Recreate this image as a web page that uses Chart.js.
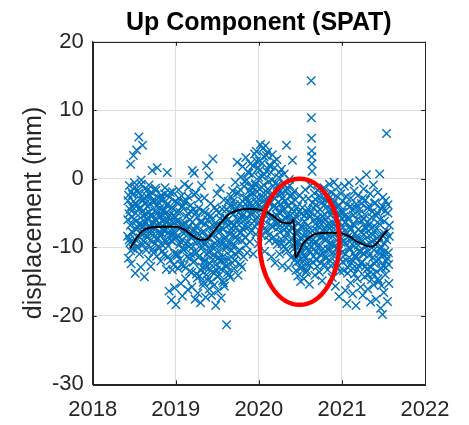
<!DOCTYPE html>
<html>
<head>
<meta charset="utf-8">
<script src="https://cdn.jsdelivr.net/npm/chart.js@4/dist/chart.umd.min.js"></script>
<style>
  html,body{margin:0;padding:0;background:#ffffff;}
  canvas{display:block;}
</style>
</head>
<body>
<canvas id="c" width="469" height="425"></canvas>
<script>
// ---- data (decimal year, displacement in mm) ----
const up2018 = [[2018.420,-8.4],[2018.425,-3.2],[2018.430,-11.6],[2018.436,-5.1],[2018.441,-1.0],[2018.447,-9.3],[2018.452,-6.8],[2018.457,2.1],[2018.463,-12.4],[2018.468,-4.0],[2018.474,-7.7],[2018.479,-2.3],[2018.485,-10.2],[2018.490,3.4],[2018.496,-5.9],[2018.502,-0.6],[2018.507,-8.8],[2018.512,-13.8],[2018.518,-3.7],[2018.523,-6.2],[2018.529,4.2],[2018.534,-9.9],[2018.540,-1.8],[2018.545,-7.1],[2018.551,-4.4],[2018.556,6.1],[2018.562,-11.0],[2018.567,-2.9],[2018.573,-6.5],[2018.578,-12.9],[2018.584,-0.2],[2018.589,-8.1],[2018.595,-4.8],[2018.600,4.9],[2018.606,-9.6],[2018.611,-3.1],[2018.617,-6.9],[2018.622,-14.3],[2018.628,-1.5],[2018.633,-7.6],[2018.639,-5.2],[2018.644,-10.4],[2018.650,-2.6],[2018.655,-8.5],[2018.661,-4.1],[2018.666,-6.0],[2018.672,-11.7],[2018.677,-0.9],[2018.683,-7.3],[2018.688,-3.6],[2018.694,-9.0],[2018.699,-12.8],[2018.705,-5.5],[2018.710,-2.0],[2018.716,1.2],[2018.721,-8.2],[2018.727,-6.4],[2018.732,-10.8],[2018.738,-3.4],[2018.743,-7.0],[2018.749,-4.7],[2018.754,-9.4],[2018.760,-1.7],[2018.765,-6.1],[2018.771,-11.3],[2018.776,1.6],[2018.782,-5.0],[2018.787,-8.7],[2018.793,-2.8],[2018.798,-7.8],[2018.804,-10.1],[2018.809,-4.3],[2018.815,-6.6],[2018.820,-12.0],[2018.826,-2.4],[2018.831,-8.0],[2018.837,-5.3],[2018.842,-9.7],[2018.848,-3.0],[2018.853,-7.4],[2018.859,-11.1],[2018.864,-4.6],[2018.870,-1.3],[2018.875,-8.9],[2018.881,-6.3],[2018.886,-13.2],[2018.892,-3.9],[2018.897,0.9],[2018.903,-7.2],[2018.908,-9.8],[2018.914,-5.6],[2018.919,-16.4],[2018.925,-2.7],[2018.930,-8.3],[2018.936,-11.9],[2018.941,-6.7],[2018.947,-17.7],[2018.952,-4.2],[2018.958,-9.1],[2018.963,-1.9],[2018.969,-7.5],[2018.974,-12.6],[2018.980,-5.4],[2018.985,-15.9],[2018.991,-3.3],[2018.996,-8.6]];
const up2018b = [[2018.423,-6.0],[2018.432,-2.4],[2018.440,-8.9],[2018.449,-4.5],[2018.457,-10.5],[2018.466,-1.9],[2018.474,-5.6],[2018.483,-7.9],[2018.491,-3.3],[2018.500,-9.4],[2018.508,-1.2],[2018.517,-5.0],[2018.525,-7.4],[2018.534,-3.9],[2018.542,-10.1],[2018.551,-2.1],[2018.559,-6.6],[2018.568,-8.6],[2018.576,-4.2],[2018.585,-0.8],[2018.593,-7.0],[2018.602,-5.4],[2018.610,-9.1],[2018.619,-2.8],[2018.627,-6.3],[2018.636,-3.6],[2018.644,-8.2],[2018.653,-5.8],[2018.661,-1.6],[2018.670,-9.7],[2018.678,-4.9],[2018.687,-6.9],[2018.695,-2.5],[2018.704,-8.0],[2018.712,-5.2],[2018.721,-10.3],[2018.729,-3.1],[2018.738,-7.2],[2018.746,-5.9],[2018.755,-1.4],[2018.763,-8.8],[2018.772,-4.0],[2018.780,-6.8],[2018.789,-9.9],[2018.797,-3.5],[2018.806,-5.6],[2018.814,-8.4],[2018.823,-2.9],[2018.831,-6.1],[2018.840,-10.6],[2018.848,-4.6],[2018.857,-7.6],[2018.865,-2.2],[2018.874,-5.1],[2018.882,-9.3],[2018.891,-6.4],[2018.899,-3.7],[2018.908,-11.4],[2018.916,-7.8],[2018.925,-5.3],[2018.933,-2.0],[2018.942,-9.0],[2018.950,-6.2],[2018.959,-13.3],[2018.967,-4.4],[2018.976,-8.1],[2018.984,-10.9],[2018.993,-5.7]];

const up2019 = [[2019.002,-18.4],[2019.007,-6.2],[2019.013,-10.9],[2019.018,-3.5],[2019.024,-8.4],[2019.029,-13.1],[2019.035,-1.6],[2019.040,-7.0],[2019.046,-11.8],[2019.051,-4.9],[2019.057,-9.2],[2019.062,-15.3],[2019.068,-2.5],[2019.073,-6.8],[2019.079,-17.1],[2019.084,-10.3],[2019.090,-4.0],[2019.095,-8.0],[2019.101,-12.7],[2019.106,-0.8],[2019.112,-6.5],[2019.117,-14.6],[2019.123,-9.5],[2019.128,-3.2],[2019.134,-11.4],[2019.139,-7.3],[2019.145,-16.2],[2019.150,-5.1],[2019.156,-1.2],[2019.161,-9.9],[2019.167,-13.5],[2019.172,-6.0],[2019.178,-3.9],[2019.183,-11.0],[2019.189,-8.7],[2019.194,-15.8],[2019.200,1.2],[2019.205,-7.6],[2019.211,-12.2],[2019.216,-4.5],[2019.222,0.8],[2019.227,-10.6],[2019.233,-17.6],[2019.238,-6.9],[2019.244,-2.1],[2019.249,-13.9],[2019.255,-9.0],[2019.260,-5.6],[2019.266,-16.7],[2019.271,-11.5],[2019.277,-3.0],[2019.282,-8.2],[2019.288,-14.2],[2019.293,-6.3],[2019.299,-18.1],[2019.304,-10.2],[2019.310,-1.0],[2019.315,-7.9],[2019.321,-12.9],[2019.326,-4.7],[2019.332,-15.1],[2019.337,-9.4],[2019.343,-2.8],[2019.348,-11.9],[2019.354,-6.6],[2019.359,-17.3],[2019.365,-13.0],[2019.370,1.9],[2019.376,-8.5],[2019.381,-5.3],[2019.387,-14.8],[2019.392,-10.7],[2019.398,0.4],[2019.403,-16.1],[2019.409,-7.1],[2019.414,-12.4],[2019.420,-3.6],[2019.425,-9.8],[2019.431,-17.0],[2019.436,-5.9],[2019.442,-13.6],[2019.447,2.9],[2019.453,-11.2],[2019.458,-8.1],[2019.464,-15.5],[2019.469,-4.2],[2019.475,-10.0],[2019.480,-18.5],[2019.486,-6.8],[2019.491,-13.3],[2019.497,-2.2],[2019.502,-9.1],[2019.508,-16.4],[2019.513,-11.6],[2019.519,-5.0],[2019.524,-14.0],[2019.530,-7.7],[2019.535,-1.4],[2019.541,-12.1],[2019.546,-17.4],[2019.552,-9.6],[2019.557,-4.4],[2019.563,-14.9],[2019.568,-7.4],[2019.574,-11.3],[2019.579,-3.1],[2019.585,-15.7],[2019.590,-8.8],[2019.596,-5.7],[2019.601,-12.8],[2019.607,-10.1],[2019.612,-21.3],[2019.618,-6.1],[2019.623,-13.7],[2019.629,-3.3],[2019.634,-9.3],[2019.640,-11.7],[2019.645,-4.8],[2019.651,-7.5],[2019.656,-14.4],[2019.662,-2.6],[2019.667,-10.5],[2019.673,-6.4],[2019.678,-12.3],[2019.684,-1.8],[2019.689,-8.3],[2019.695,-5.2],[2019.700,-13.1],[2019.706,-3.8],[2019.711,-9.7],[2019.717,-0.5],[2019.722,-7.2],[2019.728,-11.1],[2019.733,-4.6],[2019.739,2.4],[2019.744,-8.9],[2019.750,-14.1],[2019.755,-2.0],[2019.761,-6.7],[2019.766,-10.4],[2019.772,-3.7],[2019.777,-12.5],[2019.783,0.3],[2019.788,-7.8],[2019.794,-5.5],[2019.799,-9.0],[2019.805,1.8],[2019.810,-4.1],[2019.816,-11.4],[2019.821,-1.1],[2019.827,-6.9],[2019.832,-2.9],[2019.838,-8.6],[2019.843,3.1],[2019.849,-5.8],[2019.854,-0.2],[2019.860,-10.8],[2019.865,-3.4],[2019.871,1.0],[2019.876,-7.0],[2019.882,-4.3],[2019.887,-1.7],[2019.893,-9.2],[2019.898,2.2],[2019.904,-5.0],[2019.909,-2.4],[2019.915,-7.6],[2019.920,0.6],[2019.926,-3.9],[2019.931,-11.0],[2019.937,-1.3],[2019.942,-6.2],[2019.948,3.6],[2019.953,-4.7],[2019.959,-0.7],[2019.964,-8.1],[2019.970,4.0],[2019.975,-2.7],[2019.981,-5.6],[2019.986,1.5],[2019.992,-9.5],[2019.997,-3.0]];
const up2019b = [[2019.004,-8.6],[2019.012,-4.8],[2019.021,-11.2],[2019.029,-6.1],[2019.038,-2.9],[2019.046,-9.6],[2019.055,-7.2],[2019.063,-12.5],[2019.072,-4.1],[2019.080,-8.9],[2019.089,-6.6],[2019.097,-10.4],[2019.106,-3.4],[2019.114,-7.8],[2019.123,-13.0],[2019.131,-5.5],[2019.140,-9.2],[2019.148,-2.6],[2019.157,-7.0],[2019.165,-11.6],[2019.174,-4.7],[2019.182,-8.4],[2019.191,-13.7],[2019.199,-6.3],[2019.208,-9.9],[2019.216,-2.3],[2019.225,-12.0],[2019.233,-7.5],[2019.242,-5.0],[2019.250,-10.8],[2019.259,-14.5],[2019.267,-8.0],[2019.276,-4.3],[2019.284,-11.3],[2019.293,-9.1],[2019.301,-13.4],[2019.310,-6.4],[2019.318,-10.0],[2019.327,-15.6],[2019.335,-7.7],[2019.344,-12.2],[2019.352,-4.9],[2019.361,-9.5],[2019.369,-14.0],[2019.378,-11.1],[2019.386,-6.0],[2019.395,-8.7],[2019.403,-13.1],[2019.412,-10.4],[2019.420,-5.4],[2019.429,-15.0],[2019.437,-8.3],[2019.446,-11.8],[2019.454,-6.9],[2019.463,-13.8],[2019.471,-9.4],[2019.480,-12.6],[2019.488,-4.6],[2019.497,-10.7],[2019.505,-14.3],[2019.514,-7.9],[2019.522,-11.5],[2019.531,-5.8],[2019.539,-9.0],[2019.548,-13.2],[2019.556,-7.1],[2019.565,-10.2],[2019.573,-15.2],[2019.582,-6.2],[2019.590,-11.9],[2019.599,-8.5],[2019.607,-4.5],[2019.616,-12.7],[2019.624,-9.8],[2019.633,-6.7],[2019.641,-14.0],[2019.650,-8.1],[2019.658,-4.0],[2019.667,-11.4],[2019.675,-7.3],[2019.684,-9.6],[2019.692,-3.2],[2019.701,-6.8],[2019.709,-11.9],[2019.718,-4.4],[2019.726,-8.5],[2019.735,-2.1],[2019.743,-6.0],[2019.752,-10.7],[2019.760,-4.9],[2019.769,-7.9],[2019.777,-1.6],[2019.786,-5.9],[2019.794,-12.9],[2019.803,-3.3],[2019.811,-7.4],[2019.820,-5.2],[2019.828,-0.4],[2019.837,-4.5],[2019.845,-9.7],[2019.854,-2.8],[2019.862,-6.4],[2019.871,-4.0],[2019.879,0.8],[2019.888,-3.6],[2019.896,-7.8],[2019.905,-1.1],[2019.913,-5.3],[2019.922,-2.0],[2019.930,1.9],[2019.939,-4.2],[2019.947,-6.9],[2019.956,-0.9],[2019.964,-3.4],[2019.973,2.6],[2019.981,-1.9],[2019.990,-6.5],[2019.998,0.2]];

const up2020 = [[2020.003,-6.3],[2020.008,2.6],[2020.014,-1.5],[2020.019,5.0],[2020.025,-4.4],[2020.030,-8.2],[2020.036,0.4],[2020.041,-2.9],[2020.047,4.4],[2020.052,-6.0],[2020.058,-0.9],[2020.063,3.2],[2020.069,-10.6],[2020.074,-3.6],[2020.080,4.8],[2020.085,-5.4],[2020.091,1.1],[2020.096,-7.7],[2020.102,-2.0],[2020.107,3.9],[2020.113,-4.9],[2020.118,-0.4],[2020.124,-9.0],[2020.129,2.0],[2020.135,-3.3],[2020.140,-6.8],[2020.146,0.9],[2020.151,-11.4],[2020.157,-2.5],[2020.162,3.5],[2020.168,-5.7],[2020.173,-1.1],[2020.179,-8.5],[2020.184,-3.9],[2020.190,1.6],[2020.195,-12.3],[2020.201,-6.4],[2020.206,-0.6],[2020.212,-4.2],[2020.217,2.8],[2020.223,-9.6],[2020.228,-2.3],[2020.234,-7.1],[2020.239,0.2],[2020.245,-5.0],[2020.250,-11.0],[2020.256,-1.8],[2020.261,-3.7],[2020.267,-8.8],[2020.272,1.4],[2020.278,-6.1],[2020.283,-12.7],[2020.289,-2.8],[2020.294,-4.6],[2020.300,-9.9],[2020.305,0.7],[2020.311,-7.4],[2020.316,-3.2],[2020.322,-5.8],[2020.327,-10.3],[2020.333,4.9],[2020.338,-1.4],[2020.344,-8.0],[2020.349,-4.0],[2020.355,-13.0],[2020.360,-6.7],[2020.366,-0.1],[2020.371,-9.2],[2020.377,-2.6],[2020.382,-5.3],[2020.388,-11.5],[2020.393,-3.5],[2020.399,-7.3],[2020.404,2.7],[2020.410,-6.0],[2020.415,-9.7],[2020.421,-1.9],[2020.426,-4.8],[2020.432,-8.4],[2020.437,-11.8],[2020.443,-5.5],[2020.448,-13.4],[2020.454,-7.9],[2020.459,-10.9],[2020.465,-4.1],[2020.470,-14.2],[2020.476,-9.3],[2020.481,-6.5],[2020.487,-12.0],[2020.492,-2.4],[2020.498,-8.7],[2020.503,-15.0],[2020.509,-10.5],[2020.514,-5.1],[2020.520,-12.9],[2020.525,-7.2],[2020.531,-3.0],[2020.536,-9.8],[2020.542,-14.6],[2020.547,-6.2],[2020.553,-11.3],[2020.558,-1.6],[2020.564,-8.1],[2020.569,-13.7],[2020.575,-4.9],[2020.580,-10.0],[2020.586,-6.9],[2020.591,-12.4],[2020.597,-2.9],[2020.602,-8.9],[2020.608,-15.4],[2020.613,-5.6],[2020.619,-10.8],[2020.624,-1.0],[2020.630,14.3],[2020.632,8.9],[2020.634,5.9],[2020.636,4.1],[2020.637,3.2],[2020.639,2.2],[2020.641,1.1],[2020.646,-7.6],[2020.652,-12.2],[2020.657,-4.3],[2020.663,-9.4],[2020.668,-2.1],[2020.674,-14.1],[2020.679,-6.6],[2020.685,-10.7],[2020.690,-3.8],[2020.696,-8.3],[2020.701,-12.8],[2020.707,-5.7],[2020.712,-1.7],[2020.718,-9.6],[2020.723,-7.0],[2020.729,-13.6],[2020.734,-4.5],[2020.740,-11.1],[2020.745,-2.7],[2020.751,-8.6],[2020.756,-6.1],[2020.762,-14.9],[2020.767,-3.4],[2020.773,-10.2],[2020.778,-7.7],[2020.784,-1.3],[2020.789,-12.5],[2020.795,-5.2],[2020.800,-9.0],[2020.806,-3.1],[2020.811,-11.6],[2020.817,-6.8],[2020.822,-2.3],[2020.828,-13.3],[2020.833,-8.2],[2020.839,-4.7],[2020.844,-10.4],[2020.850,-0.8],[2020.855,-7.3],[2020.861,-12.0],[2020.866,-5.3],[2020.872,-2.0],[2020.877,-9.5],[2020.883,-14.4],[2020.888,-6.4],[2020.894,-3.6],[2020.899,-11.2],[2020.905,-0.5],[2020.910,-8.0],[2020.916,-4.4],[2020.921,-15.7],[2020.927,-6.9],[2020.932,-2.5],[2020.938,-10.1],[2020.943,-12.9],[2020.949,-5.0],[2020.954,-1.2],[2020.960,-8.8],[2020.965,-17.2],[2020.971,-3.9],[2020.976,-7.5],[2020.982,-11.8],[2020.987,-2.2],[2020.993,-9.3],[2020.998,-5.8]];
const up2020b = [[2020.006,-3.8],[2020.015,1.3],[2020.023,-6.1],[2020.032,-1.2],[2020.040,2.3],[2020.049,-4.3],[2020.057,-2.1],[2020.066,0.6],[2020.074,-7.2],[2020.083,-3.0],[2020.091,3.4],[2020.100,-5.0],[2020.108,-1.5],[2020.117,-8.3],[2020.125,-3.7],[2020.134,1.8],[2020.142,-5.6],[2020.151,-2.4],[2020.159,-0.2],[2020.168,-7.0],[2020.176,-4.1],[2020.185,2.5],[2020.193,-2.9],[2020.202,-9.1],[2020.210,-5.3],[2020.219,-1.0],[2020.227,-6.5],[2020.236,-3.4],[2020.244,0.9],[2020.253,-7.8],[2020.261,-5.0],[2020.270,-2.2],[2020.278,-9.5],[2020.287,-4.2],[2020.295,-0.7],[2020.304,-6.8],[2020.312,-3.3],[2020.321,-8.6],[2020.329,-1.8],[2020.338,-5.4],[2020.346,-10.6],[2020.355,-3.9],[2020.363,-7.5],[2020.372,-1.0],[2020.380,-6.2],[2020.389,-8.9],[2020.397,-4.4],[2020.406,-2.3],[2020.414,-7.1],[2020.423,-10.2],[2020.431,-5.9],[2020.440,-3.1],[2020.448,-9.3],[2020.457,-12.2],[2020.465,-7.6],[2020.474,-11.0],[2020.482,-4.8],[2020.491,-9.8],[2020.499,-13.1],[2020.508,-7.0],[2020.516,-10.9],[2020.525,-4.2],[2020.533,-12.1],[2020.542,-8.4],[2020.550,-5.4],[2020.559,-11.6],[2020.567,-9.2],[2020.576,-13.4],[2020.584,-7.4],[2020.593,-4.4],[2020.601,-10.4],[2020.610,-12.6],[2020.618,-7.9],[2020.627,-5.0],[2020.635,-9.9],[2020.644,-3.5],[2020.652,-8.9],[2020.661,-11.3],[2020.669,-6.0],[2020.678,-3.0],[2020.686,-9.2],[2020.695,-11.9],[2020.703,-7.6],[2020.712,-4.8],[2020.720,-10.0],[2020.729,-2.5],[2020.737,-6.4],[2020.746,-12.3],[2020.754,-8.4],[2020.763,-5.5],[2020.771,-10.9],[2020.780,-3.9],[2020.788,-7.3],[2020.797,-11.4],[2020.805,-5.9],[2020.814,-8.8],[2020.822,-4.1],[2020.831,-10.3],[2020.839,-6.6],[2020.848,-2.8],[2020.856,-9.4],[2020.865,-12.7],[2020.873,-6.9],[2020.882,-4.6],[2020.890,-8.4],[2020.899,-10.8],[2020.907,-3.2],[2020.916,-6.0],[2020.924,-9.7],[2020.933,-12.3],[2020.941,-7.2],[2020.950,-4.0],[2020.958,-10.5],[2020.967,-6.3],[2020.975,-13.5],[2020.984,-8.5],[2020.992,-4.9]];

const up2021 = [[2021.004,-10.7],[2021.009,-3.3],[2021.015,-7.1],[2021.020,-13.4],[2021.026,-5.5],[2021.031,-1.1],[2021.037,-9.4],[2021.042,-16.3],[2021.048,-6.3],[2021.053,-11.9],[2021.059,-18.2],[2021.064,-3.8],[2021.070,-8.5],[2021.075,-13.0],[2021.081,-5.9],[2021.086,-0.6],[2021.092,-10.2],[2021.097,-7.4],[2021.103,-15.2],[2021.108,-2.8],[2021.114,-12.3],[2021.119,-8.9],[2021.125,-4.6],[2021.130,-16.8],[2021.136,-10.9],[2021.141,-6.7],[2021.147,-1.8],[2021.152,-13.9],[2021.158,-8.0],[2021.163,-4.2],[2021.169,-18.5],[2021.174,-11.4],[2021.180,-6.0],[2021.185,-14.6],[2021.191,-2.5],[2021.196,-9.7],[2021.202,-12.7],[2021.207,-5.1],[2021.213,-0.3],[2021.218,-10.5],[2021.224,-15.8],[2021.229,-7.8],[2021.235,-3.6],[2021.240,-12.1],[2021.246,-9.1],[2021.251,-17.0],[2021.257,-5.8],[2021.262,-1.5],[2021.268,-11.0],[2021.273,-14.3],[2021.279,-7.0],[2021.284,-3.1],[2021.290,-9.9],[2021.295,0.6],[2021.301,-13.2],[2021.306,-6.4],[2021.312,-16.1],[2021.317,-10.6],[2021.323,-4.0],[2021.328,-8.3],[2021.334,-12.8],[2021.339,-2.2],[2021.345,-18.0],[2021.350,-7.3],[2021.356,-14.7],[2021.361,-9.2],[2021.367,-4.8],[2021.372,-11.5],[2021.378,-0.9],[2021.383,-15.5],[2021.389,-6.9],[2021.394,-12.4],[2021.400,-3.5],[2021.405,-9.6],[2021.411,-17.6],[2021.416,-5.4],[2021.422,-13.6],[2021.427,-8.7],[2021.433,-2.0],[2021.438,-11.7],[2021.444,-15.0],[2021.449,-6.6],[2021.455,0.7],[2021.460,-10.3],[2021.466,-18.9],[2021.471,-4.4],[2021.477,-13.1],[2021.482,-8.1],[2021.488,-19.8],[2021.493,-2.7],[2021.499,-11.2],[2021.504,-16.6],[2021.510,-6.2],[2021.515,-9.5],[2021.521,-14.0],[2021.526,-3.2],[2021.532,-12.0],[2021.537,6.6],[2021.543,-7.7],[2021.548,-17.9],[2021.554,-5.0],[2021.559,-10.8],[2021.565,-15.3],[2021.570,-8.4]];
const up2021b = [[2021.001,-7.9],[2021.010,-12.1],[2021.018,-4.9],[2021.027,-9.1],[2021.035,-6.4],[2021.044,-11.0],[2021.052,-2.6],[2021.061,-8.0],[2021.069,-13.8],[2021.078,-5.6],[2021.086,-10.0],[2021.095,-7.0],[2021.103,-4.0],[2021.112,-11.8],[2021.120,-8.6],[2021.129,-13.1],[2021.137,-5.3],[2021.146,-9.8],[2021.154,-6.9],[2021.163,-11.5],[2021.171,-3.7],[2021.180,-8.8],[2021.188,-13.2],[2021.197,-7.4],[2021.205,-10.6],[2021.214,-4.5],[2021.222,-9.0],[2021.231,-12.4],[2021.239,-6.2],[2021.248,-2.9],[2021.256,-10.9],[2021.265,-8.1],[2021.273,-5.2],[2021.282,-12.8],[2021.290,-7.3],[2021.299,-9.6],[2021.307,-4.3],[2021.316,-14.0],[2021.324,-11.2],[2021.333,-6.6],[2021.341,-9.5],[2021.350,-12.9],[2021.358,-5.6],[2021.367,-8.2],[2021.375,-13.9],[2021.384,-10.4],[2021.392,-3.6],[2021.401,-7.5],[2021.409,-12.0],[2021.418,-9.3],[2021.426,-5.0],[2021.435,-14.6],[2021.443,-8.4],[2021.452,-11.0],[2021.460,-6.0],[2021.469,-9.9],[2021.477,-15.6],[2021.486,-4.0],[2021.494,-12.7],[2021.503,-7.9],[2021.511,-10.7],[2021.520,-4.7],[2021.528,-13.0],[2021.537,-8.9],[2021.545,-11.6],[2021.554,-3.8],[2021.562,-12.5],[2021.571,-6.8]];

// smoothed trend (black line)
const trendYears = [2018.45,2018.52,2018.60,2018.70,2018.85,2019.00,2019.10,2019.20,2019.30,2019.36,2019.45,2019.55,2019.65,2019.75,2019.90,2020.00,2020.13,2020.29,2020.38,2020.42,2020.44,2020.48,2020.53,2020.60,2020.70,2020.85,2021.00,2021.10,2021.20,2021.30,2021.36,2021.43,2021.50,2021.55];
const trendMm    = [-10.2,-8.8,-7.6,-7.1,-7.0,-7.0,-7.4,-8.3,-8.9,-8.9,-7.8,-6.3,-5.1,-4.6,-4.4,-4.5,-5.1,-6.4,-6.5,-6.0,-11.5,-10.8,-9.5,-8.6,-8.0,-7.9,-8.0,-8.5,-9.3,-9.8,-9.9,-9.3,-8.2,-7.5];

// axis ticks and text
const xTicks = [2018, 2019, 2020, 2021, 2022];
const yTicks = [-30, -20, -10, 0, 10, 20];
const chartTitle = 'Up Component (SPAT)';
const yTitle = 'displacement (mm)';

// highlight annotation (data units)
const highlightCenter = {x: 2020.49, y: -9.2};
const highlightRadius = {x: 0.48, y: 9.2};

// ---- chart ----
const FONT = "'Liberation Sans', Arial, Helvetica, sans-serif";
const upPoints = up2018.concat(up2018b, up2019, up2019b, up2020, up2020b, up2021, up2021b)
  .map(p => ({x: p[0], y: p[1]}));
const trendPoints = trendYears.map((x, i) => ({x: x, y: trendMm[i]}));

const boxPlugin = {
  id: 'box',
  afterDatasetsDraw(chart) {
    const {ctx, chartArea: a, scales} = chart;
    ctx.save();
    ctx.strokeStyle = '#262626';
    ctx.lineWidth = 1;
    const tl = 4;
    ctx.beginPath();
    xTicks.forEach(v => {
      const px = Math.round(scales.x.getPixelForValue(v)) + 0.5;
      ctx.moveTo(px, a.bottom); ctx.lineTo(px, a.bottom - tl);
      ctx.moveTo(px, a.top); ctx.lineTo(px, a.top + tl);
    });
    yTicks.forEach(v => {
      const py = Math.round(scales.y.getPixelForValue(v)) + 0.5;
      ctx.moveTo(a.left, py); ctx.lineTo(a.left + tl, py);
      ctx.moveTo(a.right, py); ctx.lineTo(a.right - tl, py);
    });
    ctx.stroke();
    ctx.strokeRect(Math.round(a.left) + 0.5, Math.round(a.top) + 0.5, Math.round(a.right - a.left), Math.round(a.bottom - a.top));
    // red ellipse highlight
    const cx = scales.x.getPixelForValue(highlightCenter.x);
    const cy = scales.y.getPixelForValue(highlightCenter.y);
    const rx = Math.abs(scales.x.getPixelForValue(highlightCenter.x + highlightRadius.x) - cx);
    const ry = Math.abs(scales.y.getPixelForValue(highlightCenter.y + highlightRadius.y) - cy);
    ctx.beginPath();
    ctx.ellipse(cx, cy, rx, ry, 0, 0, Math.PI * 2);
    ctx.strokeStyle = '#ff0000';
    ctx.lineWidth = 4.5;
    ctx.stroke();
    // title centred over the axes
    ctx.fillStyle = '#000000';
    ctx.font = 'bold 25px ' + FONT;
    ctx.textAlign = 'center';
    ctx.textBaseline = 'alphabetic';
    ctx.fillText(chartTitle, (a.left + a.right) / 2, 30);
    ctx.restore();
  }
};

new Chart(document.getElementById('c'), {
  data: {
    datasets: [
      {
        type: 'line',
        label: 'trend',
        data: trendPoints,
        borderColor: '#000000',
        borderWidth: 2,
        pointRadius: 0,
        fill: false,
        cubicInterpolationMode: 'monotone',
        order: 0
      },
      {
        type: 'scatter',
        label: 'Up',
        data: upPoints,
        pointStyle: 'crossRot',
        pointRadius: 6,
        borderWidth: 1.4,
        borderColor: '#0072BD',
        backgroundColor: '#0072BD',
        order: 1
      }
    ]
  },
  options: {
    responsive: false,
    animation: false,
    events: [],
    layout: {padding: {left: 0, right: 44, top: 41.7, bottom: 0}},
    plugins: {
      legend: {display: false},
      tooltip: {enabled: false},
      title: {display: false}
    },
    scales: {
      x: {
        type: 'linear',
        min: 2018, max: 2022,
        afterBuildTicks: s => { s.ticks = xTicks.map(v => ({value: v})); },
        ticks: {
          color: '#262626',
          font: {family: FONT, size: 22},
          padding: 12,
          maxRotation: 0,
          callback: v => String(v)
        },
        grid: {color: '#dedede', drawTicks: false, lineWidth: 1},
        border: {color: '#262626', width: 1},
        afterFit: s => { s.height = 40.7; }
      },
      y: {
        type: 'linear',
        min: -30, max: 20,
        afterBuildTicks: s => { s.ticks = yTicks.map(v => ({value: v})); },
        ticks: {
          color: '#262626',
          font: {family: FONT, size: 22},
          padding: 9,
          callback: v => String(v)
        },
        grid: {color: '#dedede', drawTicks: false, lineWidth: 1},
        border: {color: '#262626', width: 1},
        title: {
          display: true,
          text: yTitle,
          color: '#262626',
          font: {family: FONT, size: 25},
          padding: {top: 19, bottom: 0}
        },
        afterFit: s => { s.width = 92.7; }
      }
    }
  },
  plugins: [boxPlugin]
});
</script>
</body>
</html>
